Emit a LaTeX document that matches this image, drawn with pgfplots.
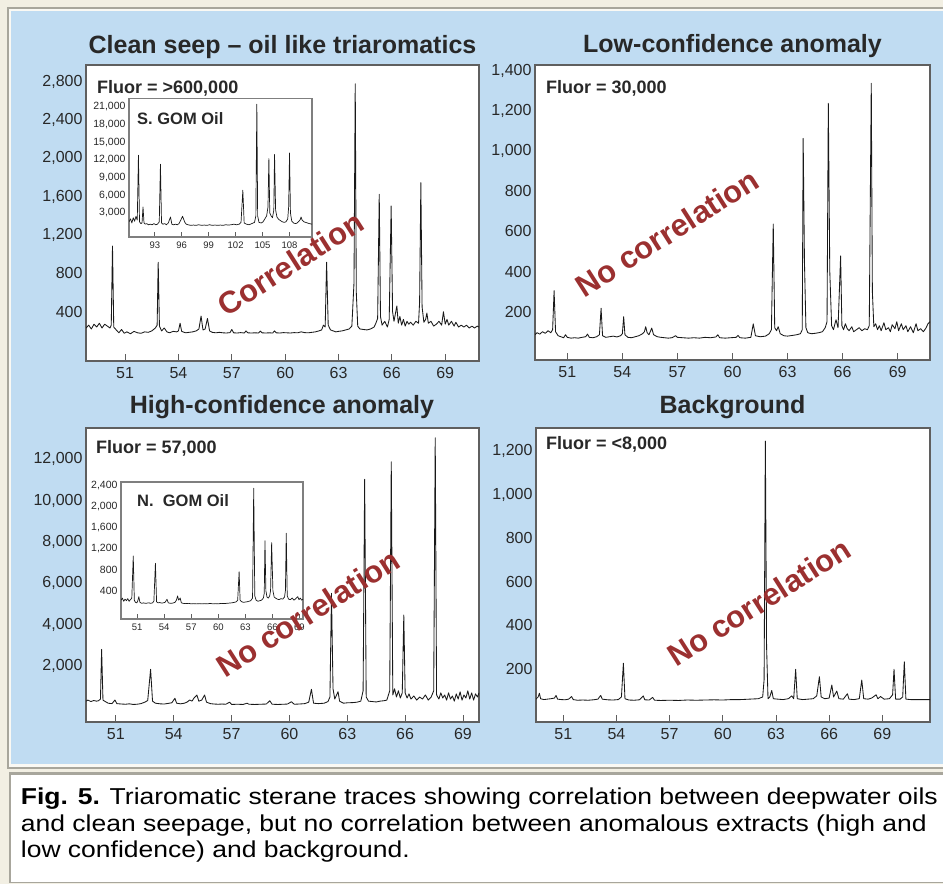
\documentclass[border=0pt]{standalone}
\usepackage{pgfplots}
\pgfplotsset{compat=1.18}
\usepackage{fontspec}
\setmainfont{Liberation Sans}
\definecolor{beige}{RGB}{242,239,227}
\definecolor{framegray}{RGB}{168,166,156}
\definecolor{panelblue}{RGB}{192,220,242}
\definecolor{axgray}{RGB}{95,95,95}
\definecolor{txtgray}{RGB}{40,40,40}
\definecolor{corrred}{RGB}{155,48,48}
\pgfplotsset{
  mainax/.style={scale only axis, anchor=south west,
    axis background/.style={fill=white},
    axis line style={draw=axgray, line width=1.4pt},
    tick align=inside, xtick pos=left, ytick style={draw=none},
    xtick style={draw=axgray, line width=0.9pt}, major tick length=7pt,
    ticklabel style={font=\fontsize{16}{16}\selectfont, text=txtgray},
    xticklabel style={yshift=-3pt},
    scaled ticks=false,
    /pgf/number format/assume math mode=true,
    /pgf/number format/1000 sep={,}},
  insetax/.style={scale only axis, anchor=south west,
    axis background/.style={fill=white},
    axis line style={draw=axgray!80, line width=1.1pt},
    tick align=inside, xtick pos=left, ytick style={draw=none},
    xtick style={draw=axgray, line width=0.7pt}, major tick length=5pt,
    yticklabel style={font=\fontsize{10.5}{10.5}\selectfont, text=txtgray},
    xticklabel style={font=\fontsize{9.5}{9.5}\selectfont, text=txtgray, yshift=-1pt},
    scaled ticks=false,
    /pgf/number format/assume math mode=true,
    /pgf/number format/1000 sep={,}},
  trace/.style={color={black!90}, line width=0.85pt, line join=round, mark=none},
}
\begin{document}
\begin{tikzpicture}[x=1pt,y=1pt]
\useasboundingbox (0pt,0pt) rectangle (943pt,884pt);
% backgrounds
\fill[beige] (0pt,0pt) rectangle (943pt,884pt);
\fill[framegray] (7pt,115pt) rectangle (943pt,877pt);
\fill[beige!40!white] (9pt,117pt) rectangle (943pt,875pt);
\fill[panelblue] (11pt,120pt) rectangle (943pt,873pt);
\fill[framegray] (9pt,1pt) rectangle (943pt,111.5pt);
\fill[white] (11pt,2pt) rectangle (943pt,109pt);

% ---------- Top left: Clean seep ----------
\begin{axis}[mainax, at={(86pt,523pt)}, width=393pt, height=296pt,
  xmin=48.8, xmax=70.9, ymin=-114, ymax=2974,
  xtick={51,54,...,69}, ytick={400,800,...,2800}]
\addplot[trace] coordinates {
(48.8,230)(48.95,260)(49.1,220)(49.25,270)(49.4,240)(49.55,280)(49.7,230)(49.85,270)(50.0,250)(50.15,230)(50.22,260)(50.29,1086)(50.36,240)(50.5,210)(50.65,180)(50.8,215)(50.95,175)(51.1,190)(51.3,170)(51.5,195)(51.7,180)(51.9,175)(52.1,190)(52.3,185)(52.5,200)(52.7,230)(52.8,260)(52.86,916)(52.93,250)(53.05,200)(53.2,230)(53.35,190)(53.5,180)(53.7,195)(53.9,190)(54.0,200)(54.09,280)(54.18,195)(54.4,180)(54.6,185)(54.8,190)(55.0,200)(55.15,220)(55.27,355)(55.38,210)(55.5,220)(55.63,330)(55.75,200)(55.9,185)(56.1,180)(56.3,185)(56.5,180)(56.7,178)(56.9,182)(57.0,215)(57.1,180)(57.3,178)(57.5,182)(57.7,178)(57.8,200)(57.9,180)(58.1,178)(58.3,180)(58.5,178)(58.6,198)(58.7,180)(58.9,178)(59.1,180)(59.3,178)(59.4,200)(59.5,180)(59.7,178)(59.9,182)(60.1,180)(60.3,178)(60.5,182)(60.7,180)(60.9,190)(61.1,182)(61.3,180)(61.5,185)(61.7,190)(61.9,200)(62.05,210)(62.15,260)(62.25,240)(62.33,916)(62.42,260)(62.55,210)(62.7,200)(62.85,190)(63.0,195)(63.2,200)(63.4,210)(63.6,220)(63.75,250)(63.87,700)(63.94,2777)(64.0,600)(64.08,250)(64.2,220)(64.4,215)(64.6,210)(64.8,220)(65.0,240)(65.1,280)(65.2,330)(65.29,1625)(65.36,350)(65.45,260)(65.6,300)(65.75,240)(65.85,320)(65.96,1503)(66.04,400)(66.12,300)(66.2,380)(66.28,460)(66.36,280)(66.45,350)(66.55,260)(66.65,320)(66.75,250)(66.85,300)(66.95,270)(67.05,290)(67.2,260)(67.35,300)(67.5,280)(67.56,500)(67.63,1747)(67.7,450)(67.8,290)(67.9,320)(67.97,386)(68.05,280)(68.2,300)(68.35,250)(68.5,270)(68.65,300)(68.8,260)(68.9,400)(69.0,270)(69.1,320)(69.2,260)(69.35,300)(69.5,250)(69.6,290)(69.75,240)(69.9,260)(70.05,240)(70.2,260)(70.35,230)(70.5,250)(70.65,230)(70.8,250)(70.9,240)
};
\end{axis}

% inset S. GOM Oil
\begin{axis}[insetax, at={(129pt,647pt)}, width=183pt, height=138.5pt,
  xmin=90.13, xmax=110.5, ymin=-1075, ymax=22426,
  xtick={93,96,...,108}, ytick={3000,6000,...,21000}]
\addplot[trace, line width=0.7pt] coordinates {
(90.13,1500)(90.3,2000)(90.45,1300)(90.6,2200)(90.75,1600)(90.9,2400)(91.05,1800)(91.18,12800)(91.3,1500)(91.45,1200)(91.58,1300)(91.69,4019)(91.8,1300)(91.95,1100)(92.1,1200)(92.3,1000)(92.5,1100)(92.7,1000)(92.9,1200)(93.1,1000)(93.3,1100)(93.5,1500)(93.63,11270)(93.75,1300)(93.9,1100)(94.1,1200)(94.3,1000)(94.5,1300)(94.75,2320)(94.9,1100)(95.1,1000)(95.3,1100)(95.5,1000)(95.7,1200)(95.9,1800)(96.09,2440)(96.2,2000)(96.35,1400)(96.5,1100)(96.7,1000)(97.0,900)(97.3,950)(97.6,900)(97.9,1000)(98.2,900)(98.5,950)(98.8,900)(99.1,1000)(99.4,900)(99.7,950)(100.0,900)(100.3,950)(100.6,900)(100.9,1000)(101.2,950)(101.5,1000)(101.8,1100)(102.1,1000)(102.4,1100)(102.6,1400)(102.8,6855)(102.95,1300)(103.2,1100)(103.5,1000)(103.8,1200)(104.1,1400)(104.25,2500)(104.36,21458)(104.45,2500)(104.6,1400)(104.85,1300)(105.05,1500)(105.25,2000)(105.45,2500)(105.6,4000)(105.7,12240)(105.8,3000)(105.95,2500)(106.1,2200)(106.25,3500)(106.33,12920)(106.45,3500)(106.6,2300)(106.8,1900)(107.0,1700)(107.2,1500)(107.4,1400)(107.6,1500)(107.8,2000)(107.9,4000)(108.0,13190)(108.1,3000)(108.25,1600)(108.45,1300)(108.65,1200)(108.85,1300)(109.05,1600)(109.2,1900)(109.28,2320)(109.4,1800)(109.6,1500)(109.8,1400)(110.0,1300)(110.2,1200)(110.5,1100)
};
\end{axis}

% ---------- Top right: Low-confidence ----------
\begin{axis}[mainax, at={(535pt,524pt)}, width=395pt, height=295pt,
  xmin=49.24, xmax=70.76, ymin=-41, ymax=1430,
  xtick={51,54,...,69}, ytick={200,400,...,1400}]
\addplot[trace] coordinates {
(49.24,85)(49.35,95)(49.5,88)(49.65,100)(49.8,92)(49.95,105)(50.1,95)(50.2,110)(50.28,305)(50.36,100)(50.5,80)(50.65,75)(50.8,70)(50.9,85)(51.0,72)(51.2,68)(51.4,70)(51.6,68)(51.8,72)(52.0,75)(52.1,88)(52.2,72)(52.4,70)(52.6,75)(52.75,85)(52.84,217)(52.92,80)(53.1,72)(53.3,75)(53.5,78)(53.7,74)(53.9,80)(54.0,90)(54.07,175)(54.14,85)(54.3,72)(54.5,70)(54.7,75)(54.9,80)(55.1,90)(55.2,100)(55.27,125)(55.35,95)(55.45,85)(55.6,118)(55.7,85)(55.9,75)(56.1,72)(56.3,70)(56.5,68)(56.7,70)(56.9,80)(57.0,72)(57.3,70)(57.6,68)(57.9,70)(58.2,68)(58.5,72)(58.8,70)(59.1,74)(59.2,85)(59.3,70)(59.6,68)(59.9,70)(60.2,72)(60.3,82)(60.4,70)(60.7,68)(61.0,72)(61.13,139)(61.25,80)(61.5,75)(61.8,78)(62.0,90)(62.12,110)(62.22,637)(62.3,120)(62.4,105)(62.49,125)(62.6,90)(62.8,80)(63.0,78)(63.3,82)(63.5,85)(63.7,90)(63.8,110)(63.85,1064)(63.92,450)(64.0,120)(64.1,95)(64.3,90)(64.5,92)(64.7,95)(64.9,100)(65.05,120)(65.15,150)(65.22,1239)(65.3,400)(65.4,130)(65.5,110)(65.64,160)(65.75,120)(65.89,478)(65.96,130)(66.05,110)(66.15,140)(66.25,115)(66.35,105)(66.5,125)(66.6,100)(66.75,110)(66.9,120)(67.05,105)(67.2,115)(67.35,110)(67.45,130)(67.56,1339)(67.62,300)(67.7,125)(67.8,140)(67.9,110)(68.0,130)(68.1,105)(68.25,145)(68.35,110)(68.5,120)(68.6,100)(68.7,135)(68.85,115)(68.95,150)(69.05,105)(69.2,140)(69.3,110)(69.45,130)(69.55,100)(69.7,125)(69.85,95)(70.0,140)(70.1,105)(70.25,115)(70.4,100)(70.55,120)(70.65,140)(70.76,150)
};
\end{axis}

% ---------- Bottom left: High-confidence ----------
\begin{axis}[mainax, at={(86pt,162pt)}, width=393pt, height=294pt,
  xmin=49.45, xmax=69.83, ymin=-709, ymax=13515,
  xtick={51,54,...,69}, ytick={2000,4000,...,12000}]
\addplot[trace] coordinates {
(49.45,300)(49.55,350)(49.7,280)(49.85,330)(50.0,300)(50.1,320)(50.2,400)(50.26,2806)(50.33,350)(50.45,280)(50.6,200)(50.8,180)(50.95,355)(51.05,180)(51.3,160)(51.5,150)(51.7,170)(51.9,140)(52.1,150)(52.3,180)(52.5,250)(52.65,330)(52.8,1840)(52.9,300)(53.05,200)(53.3,170)(53.5,160)(53.7,190)(53.9,220)(54.06,437)(54.15,200)(54.35,170)(54.55,200)(54.7,260)(54.83,355)(54.95,300)(55.05,450)(55.2,597)(55.3,300)(55.45,350)(55.6,597)(55.7,250)(55.9,180)(56.1,160)(56.3,150)(56.5,160)(56.7,150)(56.9,250)(57.0,140)(57.3,150)(57.6,140)(57.8,200)(57.9,150)(58.2,140)(58.5,150)(58.8,160)(58.98,320)(59.1,150)(59.4,140)(59.7,150)(59.9,160)(60.1,270)(60.25,150)(60.5,160)(60.8,180)(61.0,250)(61.14,873)(61.25,200)(61.5,180)(61.8,200)(62.0,280)(62.1,500)(62.18,5517)(62.26,900)(62.35,400)(62.52,757)(62.6,300)(62.8,200)(63.0,220)(63.3,230)(63.5,250)(63.7,300)(63.82,800)(63.9,11032)(63.98,500)(64.1,300)(64.3,280)(64.5,260)(64.7,300)(64.9,320)(65.05,350)(65.2,800)(65.28,11884)(65.36,600)(65.45,900)(65.55,500)(65.65,800)(65.75,450)(65.85,700)(65.93,4467)(66.0,700)(66.1,450)(66.2,650)(66.3,400)(66.45,550)(66.6,350)(66.75,500)(66.9,400)(67.05,600)(67.2,350)(67.35,500)(67.48,800)(67.56,13045)(67.63,600)(67.75,400)(67.85,700)(67.95,450)(68.05,600)(68.15,350)(68.25,700)(68.35,400)(68.45,550)(68.55,300)(68.65,650)(68.75,400)(68.85,750)(68.95,350)(69.05,600)(69.15,450)(69.25,800)(69.35,400)(69.45,700)(69.55,350)(69.65,650)(69.75,500)(69.83,700)
};
\end{axis}

% inset N. GOM Oil
\begin{axis}[insetax, at={(121pt,265pt)}, width=182pt, height=137pt,
  xmin=49.2, xmax=69.4, ymin=-136, ymax=2457,
  xtick={51,54,...,69}, ytick={400,800,...,2400}]
\addplot[trace, line width=0.7pt] coordinates {
(49.2,220)(49.35,260)(49.5,200)(49.65,240)(49.8,210)(49.95,250)(50.1,200)(50.25,230)(50.4,260)(50.56,1057)(50.68,220)(50.8,180)(50.95,170)(51.05,200)(51.18,286)(51.3,180)(51.5,160)(51.7,170)(51.9,160)(52.1,165)(52.3,170)(52.5,160)(52.7,170)(52.85,200)(53.02,918)(53.15,190)(53.3,170)(53.5,175)(53.7,165)(53.9,170)(54.1,180)(54.3,237)(54.45,170)(54.7,160)(54.95,165)(55.2,180)(55.35,220)(55.48,300)(55.6,220)(55.77,260)(55.9,170)(56.1,160)(56.4,155)(56.7,160)(57.0,150)(57.3,155)(57.6,150)(57.9,155)(58.2,150)(58.5,155)(58.8,150)(59.1,160)(59.4,150)(59.7,155)(60.0,150)(60.3,160)(60.6,155)(60.9,160)(61.2,165)(61.5,170)(61.8,180)(62.0,190)(62.15,220)(62.31,760)(62.42,220)(62.6,190)(62.8,180)(63.0,185)(63.2,190)(63.4,200)(63.6,210)(63.8,260)(63.93,2338)(64.05,300)(64.2,220)(64.4,200)(64.6,210)(64.8,220)(65.0,260)(65.1,350)(65.18,1346)(65.28,400)(65.4,280)(65.55,260)(65.7,300)(65.8,400)(65.92,1309)(66.06,400)(66.2,280)(66.35,260)(66.55,240)(66.75,230)(66.95,250)(67.15,240)(67.35,280)(67.45,400)(67.54,1486)(67.65,300)(67.8,240)(68.0,230)(68.2,260)(68.4,220)(68.6,250)(68.82,286)(68.95,230)(69.1,260)(69.25,220)(69.4,240)
};
\end{axis}

% ---------- Bottom right: Background ----------
\begin{axis}[mainax, at={(536pt,162pt)}, width=394pt, height=294pt,
  xmin=49.46, xmax=71.69, ymin=-45, ymax=1306,
  xtick={51,54,...,69}, ytick={200,400,...,1200}]
\addplot[trace] coordinates {
(49.46,60)(49.58,70)(49.65,87)(49.72,62)(49.9,58)(50.1,60)(50.3,62)(50.5,65)(50.59,77)(50.68,60)(50.9,58)(51.1,57)(51.3,60)(51.47,72)(51.56,58)(51.8,55)(52.1,56)(52.4,55)(52.7,57)(52.95,60)(53.11,77)(53.2,60)(53.5,57)(53.8,56)(54.1,58)(54.28,70)(54.39,225)(54.48,62)(54.7,56)(55.0,55)(55.3,57)(55.51,75)(55.6,57)(55.85,56)(56.04,68)(56.15,55)(56.5,54)(57.0,55)(57.5,54)(58.0,56)(58.5,55)(59.0,56)(59.5,57)(60.0,56)(60.5,58)(61.0,58)(61.5,60)(62.0,62)(62.25,70)(62.33,150)(62.4,1246)(62.47,300)(62.55,62)(62.65,70)(62.76,100)(62.85,62)(63.1,60)(63.4,58)(63.7,62)(63.89,75)(64.0,62)(64.11,197)(64.2,62)(64.5,58)(64.8,60)(65.1,62)(65.3,75)(65.45,163)(65.55,70)(65.75,62)(66.0,65)(66.15,125)(66.25,70)(66.43,97)(66.55,62)(66.8,60)(67.03,85)(67.12,60)(67.4,58)(67.7,62)(67.84,148)(67.95,62)(68.2,60)(68.4,65)(68.65,80)(68.75,62)(68.9,72)(69.1,60)(69.4,62)(69.58,80)(69.66,197)(69.75,60)(70.0,60)(70.15,70)(70.24,232)(70.33,60)(70.6,58)(70.9,58)(71.2,58)(71.69,58)
};
\end{axis}

% titles
\begin{scope}[every node/.style={font=\fontsize{25}{25}\selectfont\bfseries, text=txtgray, anchor=base, inner sep=0pt}]
\node at (282.5pt,830.7pt) {Clean seep – oil like triaromatics};
\node at (732.5pt,831.5pt) {Low-confidence anomaly};
\node at (282pt,470.7pt) {High-confidence anomaly};
\node at (732.5pt,470.7pt) {Background};
\end{scope}
% Fluor labels
\begin{scope}[every node/.style={font=\fontsize{18}{18}\selectfont\bfseries, text=txtgray, anchor=base west, inner sep=0pt}]
\node at (97pt,790.7pt) {Fluor = >600,000};
\node at (546pt,790.7pt) {Fluor = 30,000};
\node at (96pt,430pt) {Fluor = 57,000};
\node at (546pt,434pt) {Fluor = <8,000};
\end{scope}
\begin{scope}[every node/.style={font=\fontsize{16.5}{16.5}\selectfont\bfseries, text=txtgray, anchor=base west, inner sep=0pt}]
\node at (137pt,759pt) {S. GOM Oil};
\node at (137pt,377.3pt) {N.\ \ GOM Oil};
\end{scope}
% red annotations
\begin{scope}[every node/.style={font=\fontsize{31}{31}\selectfont\bfseries, text=corrred, rotate=32.5, inner sep=0pt}]
\node at (290.5pt,620.5pt) {Correlation};
\node at (667pt,651pt) {No correlation};
\node at (308pt,271pt) {No correlation};
\node at (759pt,282pt) {No correlation};
\end{scope}
% caption
\begin{scope}[every node/.style={font=\fontsize{23}{23}\selectfont, text=black, anchor=base west, inner sep=0pt}]
\node at (20.7pt,79pt) {\scalebox{1.152}[1]{\textbf{Fig. 5.} Triaromatic sterane traces showing correlation between deepwater oils}};
\node at (20.7pt,52.3pt) {\scalebox{1.152}[1]{and clean seepage, but no correlation between anomalous extracts (high and}};
\node at (20.7pt,26.5pt) {\scalebox{1.152}[1]{low confidence) and background.}};
\end{scope}
\end{tikzpicture}
\end{document}
